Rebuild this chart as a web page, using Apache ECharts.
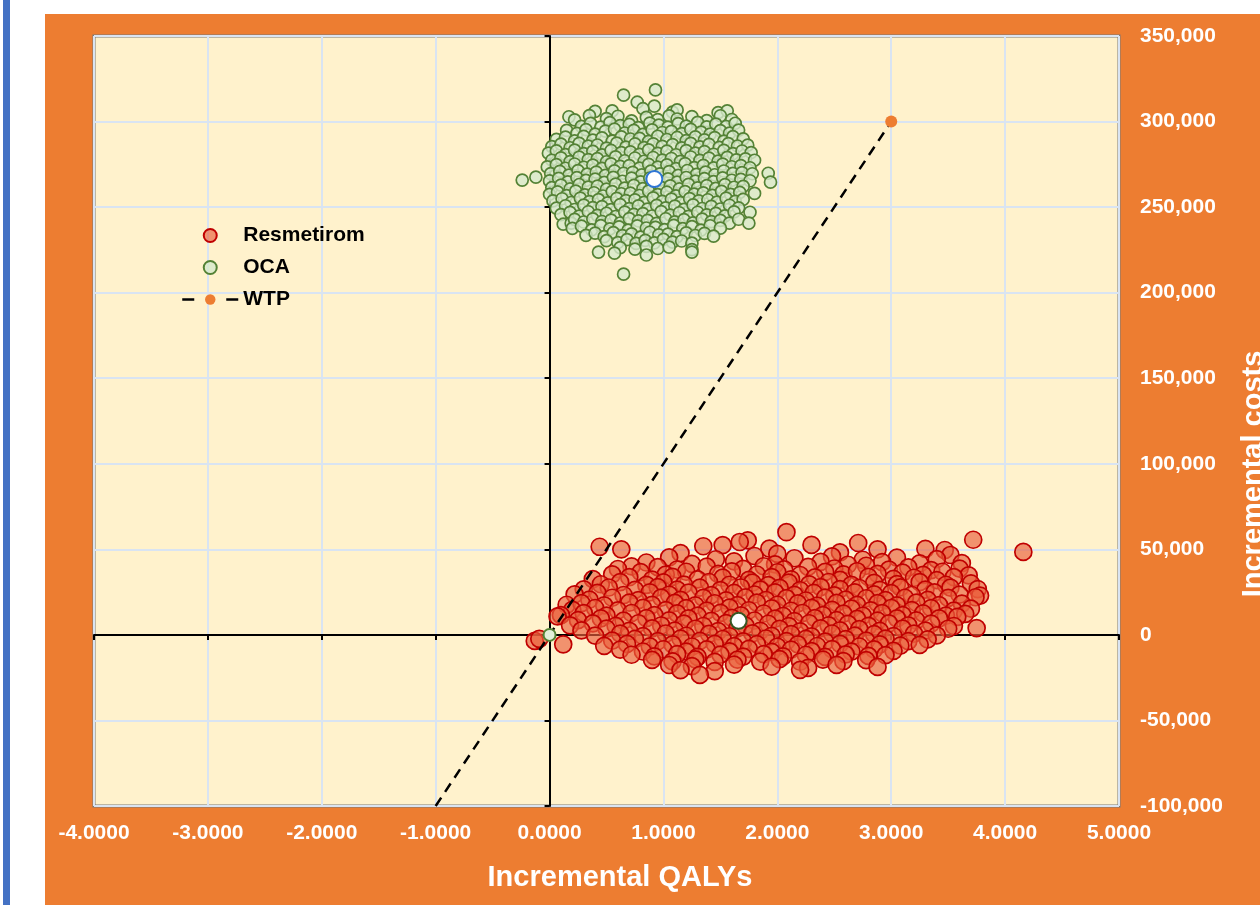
<!DOCTYPE html>
<html><head><meta charset="utf-8">
<script src="https://cdn.jsdelivr.net/npm/echarts@6/dist/echarts.min.js"></script>
<style>html,body{margin:0;padding:0;background:#fff;}#c{width:1260px;height:905px;}</style>
</head><body><div id="c"></div>
<script>
// ---- Data (incremental QALYs, incremental costs) ----
const resmetiromPoints = [
[2.08,60000],
[1.74,55200],[1.67,54300],[3.72,55600],[2.71,53700],[1.52,52500],
[0.44,51500],[0.63,50000],[1.35,51800],[2.3,52600],[3.3,50300],[3.47,49600],[1.93,50400],[2.88,50000],[4.16,48500],[2.55,48200],[1.15,47800],
[1.05,45300],[1.46,44200],[1.8,46100],[2.15,44800],[2.48,45900],[2.75,43900],[3.05,45200],[3.52,46700],[3.62,41900],[2.0,47300],
[0.85,42300],[1.25,41500],[1.62,43000],[1.98,41200],[2.38,42700],[2.62,41000],[2.92,42500],[3.25,41800],[3.4,44300],[0.72,40000],
[0.6,38500],[0.95,39600],[1.12,38200],[1.38,39900],[1.7,38600],[1.88,40100],[2.06,38300],[2.27,39700],[2.5,38800],[2.78,40400],[2.98,38100],[3.15,39500],[3.35,37900],[3.6,38700],
[0.55,35400],[0.8,36700],[1.02,35200],[1.2,36900],[1.48,35600],[1.6,37100],[1.82,35300],[2.0,36600],[2.2,35000],[2.42,36800],[2.58,35400],[2.7,37200],[2.88,35700],[3.1,36400],[3.28,35100],[3.45,36900],[3.68,34800],
[0.38,32600],[0.7,33700],[0.9,32300],[1.08,33900],[1.3,32400],[1.52,33500],[1.75,32100],[1.95,33800],[2.12,32500],[2.33,33600],[2.55,32200],[2.8,33900],[3.02,32700],[3.2,33400],[3.4,32000],[3.55,33800],
[0.45,29600],[0.62,30800],[0.85,29200],[1.0,30700],[1.18,29400],[1.4,30900],[1.58,29300],[1.78,30500],[1.92,29100],[2.1,30600],[2.28,29500],[2.45,30900],[2.65,29200],[2.85,30400],[3.05,29700],[3.25,30800],[3.48,29300],[3.7,30100],
[0.3,26600],[0.52,27700],[0.75,26300],[0.95,27900],[1.12,26500],[1.32,27600],[1.5,26200],[1.68,27800],[1.85,26400],[2.02,27500],[2.2,26100],[2.38,27900],[2.55,26700],[2.72,27400],[2.9,26300],[3.08,27800],[3.3,26500],[3.52,27600],[3.76,26800],
[0.22,23700],[0.42,24600],[0.65,23300],[0.88,24900],[1.05,23500],[1.22,24700],[1.42,23200],[1.62,24500],[1.8,23600],[1.98,24800],[2.15,23400],[2.32,24600],[2.5,23100],[2.68,24900],[2.85,23700],[3.0,24400],[3.18,23300],[3.38,24800],[3.6,23500],[3.78,23000],
[0.35,20600],[0.55,21700],[0.78,20300],[0.98,21800],[1.15,20500],[1.35,21600],[1.55,20200],[1.72,21900],[1.9,20400],[2.08,21500],[2.25,20100],[2.42,21800],[2.6,20600],[2.78,21400],[2.95,20300],[3.12,21700],[3.32,20500],[3.5,21600],[3.74,22000],
[0.15,17600],[0.28,18600],[0.48,17300],[0.7,18800],[0.9,17500],[1.1,18700],[1.28,17200],[1.45,18500],[1.65,17400],[1.82,18900],[2.0,17600],[2.18,18400],[2.35,17100],[2.52,18700],[2.7,17500],[2.88,18600],[3.05,17300],[3.22,18800],[3.42,17400],[3.62,18300],
[0.2,14600],[0.4,15700],[0.6,14300],[0.82,15800],[1.02,14500],[1.2,15600],[1.38,14200],[1.58,15900],[1.75,14400],[1.95,15500],[2.12,14100],[2.3,15800],[2.48,14600],[2.65,15400],[2.82,14300],[3.0,15700],[3.18,14500],[3.35,15600],[3.55,14200],[3.7,15300],
[0.1,11600],[0.3,12700],[0.5,11300],[0.72,12800],[0.92,11500],[1.12,12600],[1.3,11200],[1.5,12900],[1.68,11400],[1.88,12500],[2.05,11100],[2.22,12800],[2.4,11600],[2.58,12400],[2.75,11300],[2.92,12700],[3.1,11500],[3.28,12600],[3.48,11200],[3.65,12300],
[0.07,10800],[0.25,8600],[0.45,9700],[0.65,8300],[0.85,9800],[1.05,8500],[1.22,9600],[1.42,8200],[1.6,9900],[1.8,8400],[1.98,9500],[2.15,8100],[2.33,9800],[2.52,8600],[2.7,9400],[2.88,8300],[3.05,9700],[3.22,8500],[3.42,9600],[3.58,10500],
[0.18,5600],[0.38,6700],[0.58,5300],[0.78,6800],[0.98,5500],[1.18,6600],[1.35,5200],[1.55,6900],[1.72,5400],[1.92,6500],[2.1,5100],[2.28,6800],[2.45,5600],[2.62,6400],[2.8,5300],[2.98,6700],[3.15,5500],[3.35,6600],[3.55,5200],
[0.28,2600],[0.5,3700],[0.7,2300],[0.9,3800],[1.1,2500],[1.28,3600],[1.48,2200],[1.65,3900],[1.85,2400],[2.02,3500],[2.2,2100],[2.38,3800],[2.55,2600],[2.72,3400],[2.9,2300],[3.1,3700],[3.3,2500],[3.5,3600],[3.75,4000],
[0.4,-400],[0.62,700],[0.82,-700],[1.02,800],[1.2,-500],[1.4,600],[1.58,-800],[1.78,900],[1.95,-600],[2.12,500],[2.3,-900],[2.48,800],[2.68,-400],[2.85,400],[3.02,-700],[3.2,700],[3.4,-300],
[-0.13,-3500],[-0.09,-2300],[0.55,-3400],[0.75,-2300],[0.95,-3700],[1.15,-2200],[1.32,-3500],[1.52,-2400],[1.7,-3800],[1.9,-2100],[2.08,-3600],[2.25,-2300],[2.42,-3900],[2.6,-2500],[2.78,-3400],[2.95,-2200],[3.15,-3600],[3.32,-2600],
[0.12,-5500],[0.48,-6400],[0.68,-5300],[0.88,-6700],[1.08,-5600],[1.25,-6800],[1.45,-5200],[1.62,-6600],[1.82,-5400],[2.0,-6900],[2.18,-5500],[2.35,-6500],[2.55,-5200],[2.72,-6800],[2.9,-5600],[3.08,-6300],[3.25,-5800],
[0.62,-8600],[0.82,-9700],[1.0,-8400],[1.2,-9800],[1.38,-8500],[1.58,-9600],[1.75,-8200],[1.95,-9900],[2.12,-8600],[2.3,-9500],[2.48,-8300],[2.65,-9800],[2.85,-8500],[3.02,-9300],
[0.72,-11600],[0.92,-12600],[1.12,-11300],[1.3,-12800],[1.5,-11500],[1.7,-12700],[1.88,-11200],[2.05,-12500],[2.25,-11600],[2.42,-12900],[2.6,-11400],[2.8,-12300],[2.95,-11800],
[0.9,-14600],[1.08,-15500],[1.28,-14300],[1.45,-15800],[1.65,-14500],[1.85,-15600],[2.02,-14200],[2.2,-15700],[2.4,-14400],[2.58,-15300],[2.78,-14700],
[1.05,-17600],[1.25,-18300],[1.62,-17400],[1.95,-18600],[2.27,-19300],[2.52,-17500],[2.88,-18700],
[1.15,-20600],[1.45,-21200],[2.2,-20400],
[1.32,-23400]
];

const ocaPoints = [
[0.93,318500],[0.65,315400],[0.77,311300],[0.92,309000],[0.55,306200],[1.08,305500],[1.12,306800],[1.48,305200],[1.56,306300],[0.82,307500],[0.4,306000],
[0.17,302800],[0.22,301000],[0.35,303500],[0.5,301700],[0.6,303100],[0.72,300400],[0.85,302400],[0.95,301100],[1.05,303300],[1.12,301500],[1.25,302900],[1.38,300600],[1.5,303400],[1.6,301200],
[0.28,297200],[0.36,298900],[0.45,296800],[0.53,299400],[0.62,297600],[0.7,298300],[0.78,296500],[0.88,299100],[0.96,297900],[1.04,296700],[1.13,298800],[1.2,297300],[1.3,299500],[1.38,296900],[1.46,298500],[1.55,297100],[1.63,299000],
[0.15,294800],[0.24,293100],[0.32,295300],[0.4,292700],[0.49,294400],[0.57,295600],[0.66,293300],[0.74,294900],[0.82,292500],[0.9,295100],[0.99,293600],[1.07,294300],[1.16,292900],[1.24,295400],[1.33,293800],[1.41,292600],[1.5,294700],[1.58,293200],[1.66,295000],
[0.06,289600],[0.14,290900],[0.22,288700],[0.3,291300],[0.38,289200],[0.46,290500],[0.55,288500],[0.63,291100],[0.71,289800],[0.79,290200],[0.87,288400],[0.95,291400],[1.03,289500],[1.12,290700],[1.2,288900],[1.28,291000],[1.36,289300],[1.45,290600],[1.53,288600],[1.61,291200],[1.7,289900],
[0.02,285300],[0.1,286800],[0.18,284700],[0.26,287200],[0.34,285600],[0.42,286300],[0.5,284500],[0.59,287400],[0.67,285100],[0.75,286900],[0.83,284800],[0.91,287000],[0.99,285500],[1.08,286500],[1.16,284600],[1.24,287300],[1.32,285200],[1.4,286700],[1.49,284900],[1.57,287100],[1.65,285700],[1.74,286200],
[-0.01,281500],[0.06,282900],[0.14,280700],[0.22,283300],[0.3,281200],[0.38,282600],[0.46,280500],[0.54,283100],[0.63,281800],[0.71,282300],[0.79,280800],[0.87,283400],[0.95,281400],[1.03,282700],[1.11,280600],[1.2,283000],[1.28,281600],[1.36,282400],[1.44,280900],[1.53,283200],[1.61,281300],[1.69,282800],[1.77,281900],
[0.02,277400],[0.1,278800],[0.18,276600],[0.26,279200],[0.34,277700],[0.42,278300],[0.5,276500],[0.58,279400],[0.66,277100],[0.75,278700],[0.83,276800],[0.91,279000],[0.99,277500],[1.07,278400],[1.15,276700],[1.24,279300],[1.32,277300],[1.4,278600],[1.48,276900],[1.56,279100],[1.64,277600],[1.72,278200],[1.8,277400],
[-0.02,273500],[0.06,274800],[0.14,272700],[0.22,275200],[0.3,273300],[0.38,274500],[0.46,272600],[0.54,275300],[0.62,273800],[0.7,274300],[0.79,272800],[0.87,275000],[0.95,273400],[1.03,274700],[1.11,272500],[1.19,275400],[1.27,273100],[1.35,274400],[1.44,272900],[1.52,275100],[1.6,273600],[1.68,274200],[1.76,273000],
[0.01,269600],[0.09,270900],[0.17,268700],[0.25,271300],[0.33,269300],[0.41,270400],[0.49,268500],[0.57,271200],[0.65,269800],[0.73,270300],[0.81,268800],[0.89,271000],[0.97,269400],[1.05,270700],[1.13,268600],[1.21,271400],[1.29,269100],[1.37,270500],[1.45,268900],[1.53,271100],[1.61,269700],[1.69,270200],[1.78,269500],[1.92,269800],
[-0.24,265800],[-0.12,267500],[0.0,265300],[0.08,266800],[0.16,264700],[0.24,267200],[0.32,265600],[0.4,266300],[0.48,264500],[0.56,267400],[0.64,265100],[0.72,266900],[0.8,264800],[0.88,267000],[0.96,265500],[1.04,266500],[1.12,264600],[1.2,267300],[1.28,265200],[1.36,266700],[1.44,264900],[1.52,267100],[1.6,265700],[1.68,266200],[1.76,265400],[1.94,264600],
[0.02,261400],[0.1,262800],[0.18,260600],[0.26,263200],[0.34,261700],[0.42,262300],[0.5,260500],[0.58,263400],[0.66,261100],[0.74,262700],[0.82,260800],[0.9,263000],[0.98,261500],[1.06,262400],[1.14,260700],[1.22,263300],[1.3,261200],[1.38,262600],[1.46,260900],[1.54,263100],[1.62,261600],[1.7,262100],
[0.0,257500],[0.07,258900],[0.15,256700],[0.23,259300],[0.31,257200],[0.39,258400],[0.47,256500],[0.55,259100],[0.63,257800],[0.71,258200],[0.79,256800],[0.87,259400],[0.95,257300],[1.03,258700],[1.11,256600],[1.19,259000],[1.27,257600],[1.35,258300],[1.43,256900],[1.51,259200],[1.59,257400],[1.67,258600],[1.8,258000],
[0.03,253600],[0.11,254900],[0.19,252700],[0.27,255300],[0.35,253200],[0.43,254400],[0.51,252500],[0.59,255100],[0.67,253800],[0.75,254200],[0.83,252800],[0.91,255400],[0.99,253300],[1.07,254700],[1.15,252600],[1.23,255000],[1.31,253700],[1.39,254300],[1.47,252900],[1.55,255200],[1.63,253400],[1.7,254500],
[0.06,249400],[0.14,250800],[0.22,248600],[0.3,251200],[0.38,249700],[0.46,250300],[0.54,248500],[0.62,251400],[0.7,249100],[0.78,250700],[0.86,248800],[0.94,251000],[1.02,249500],[1.1,250600],[1.18,248700],[1.26,251300],[1.34,249200],[1.42,250400],[1.5,248900],[1.58,251100],[1.66,249600],
[0.1,245600],[0.18,246900],[0.26,244700],[0.34,247300],[0.42,245200],[0.5,246400],[0.58,244500],[0.66,247100],[0.74,245800],[0.82,246200],[0.9,244800],[0.98,247400],[1.06,245300],[1.14,246700],[1.22,244600],[1.3,247000],[1.38,245500],[1.46,246300],[1.54,244900],[1.62,247200],[1.76,247000],
[0.12,240000],[0.19,240600],[0.22,242800],[0.3,241300],[0.38,243100],[0.46,241600],[0.54,242400],[0.62,240700],[0.7,243300],[0.78,241900],[0.86,242200],[0.94,240500],[1.02,243200],[1.1,241400],[1.18,242700],[1.26,240800],[1.34,243000],[1.42,241500],[1.5,242300],[1.58,240600],[1.66,242900],[1.75,240600],
[0.2,237600],[0.28,238900],[0.37,236700],[0.45,239200],[0.53,237300],[0.61,238400],[0.69,236500],[0.77,239000],[0.85,237800],[0.93,238200],[1.01,236800],[1.09,239300],[1.17,237400],[1.25,238600],[1.33,236600],[1.41,239100],[1.5,237700],
[0.32,233500],[0.4,234800],[0.48,232700],[0.56,235100],[0.64,233300],[0.72,234400],[0.8,232500],[0.88,235300],[0.96,233800],[1.04,234200],[1.12,232800],[1.2,235000],[1.28,233400],[1.36,234600],[1.44,233000],
[0.5,230400],[0.6,229300],[0.68,231000],[0.76,228800],[0.84,230600],[0.92,229100],[1.0,231200],[1.08,229500],[1.16,230200],[1.25,228900],
[0.62,226300],[0.75,225400],[0.85,227000],[0.95,225800],[1.05,226600],[1.25,225200],
[0.43,223700],[0.57,223100],[0.85,222000],[1.25,223700],[0.65,210800]
];

const resmetiromMean = [1.66, 8200];
const ocaMean = [0.92, 266400];
const originPoint = [0, 0];
const wtpLine = [[-1, -100000], [3, 300000]];   // WTP threshold line, orange dot at its end
const legendNames = ['Resmetirom', 'OCA', 'WTP'];
const xAxisTitle = 'Incremental QALYs';
const yAxisTitle = 'Incremental costs';
const xRange = {min: -4, max: 5, interval: 1};
const yRange = {min: -100000, max: 350000, interval: 50000};

// ---- Chart ----
const FONT = '"Liberation Sans", Arial, sans-serif';
const chart = echarts.init(document.getElementById('c'), null, {renderer: 'canvas'});
const xLabelFmt = v => v.toFixed(4);
const yLabelFmt = v => v.toLocaleString('en-US');
const gridLine = {show: true, lineStyle: {color: '#d9e4f2', width: 2}};
const blackAxis = {color: '#000', width: 2};

chart.setOption({
  animation: false,
  backgroundColor: '#ffffff',
  textStyle: {fontFamily: FONT},
  graphic: [
    {type: 'rect', z: -100, shape: {x: 3, y: 0, width: 7, height: 905}, style: {fill: '#4472c4'}},
    {type: 'rect', z: -100, shape: {x: 45, y: 14, width: 1215, height: 891}, style: {fill: '#ed7d31'}},
    {type: 'text', z: 100, x: 620, y: 878, style: {text: xAxisTitle, fill: '#ffffff', font: 'bold 29px ' + FONT, textAlign: 'center', textVerticalAlign: 'middle'}},
    {type: 'text', z: 100, x: 1254, y: 474, rotation: Math.PI / 2, style: {text: yAxisTitle, fill: '#ffffff', font: 'bold 29px ' + FONT, textAlign: 'center', textVerticalAlign: 'middle'}}
  ],
  grid: {left: 94, right: 141, top: 36, bottom: 99, show: true, backgroundColor: '#fff2cc', borderColor: '#7a7a7a', borderWidth: 3},
  legend: {
    orient: 'vertical', left: 176, top: 220, itemWidth: 56, itemHeight: 13, itemGap: 11,
    textStyle: {fontSize: 21, fontWeight: 'bold', color: '#000', fontFamily: FONT, lineHeight: 20},
    data: [
      {name: legendNames[0]},
      {name: legendNames[1]},
      {name: legendNames[2], lineStyle: {type: [12, 32], width: 2.5}}
    ]
  },
  xAxis: [
    {type: 'value', min: xRange.min, max: xRange.max, interval: xRange.interval, position: 'bottom',
      axisLine: {show: false, onZero: false}, axisTick: {show: false}, splitLine: gridLine,
      axisLabel: {color: '#fff', fontWeight: 'bold', fontSize: 21, fontFamily: FONT, margin: 17, formatter: xLabelFmt}},
    {type: 'value', min: xRange.min, max: xRange.max, interval: xRange.interval, position: 'top',
      axisLine: {show: true, onZero: true, onZeroAxisIndex: 0, lineStyle: blackAxis},
      axisTick: {show: true, inside: true, length: 5, lineStyle: blackAxis},
      axisLabel: {show: false}, splitLine: {show: false}}
  ],
  yAxis: [
    {type: 'value', min: yRange.min, max: yRange.max, interval: yRange.interval, position: 'right',
      axisLine: {show: false, onZero: false}, axisTick: {show: false}, splitLine: gridLine,
      axisLabel: {color: '#fff', fontWeight: 'bold', fontSize: 21, fontFamily: FONT, margin: 21, padding: [4, 0, 0, 0], formatter: yLabelFmt}},
    {type: 'value', min: yRange.min, max: yRange.max, interval: yRange.interval, position: 'left',
      axisLine: {show: true, onZero: true, onZeroAxisIndex: 0, lineStyle: blackAxis},
      axisTick: {show: true, inside: false, length: 5, lineStyle: blackAxis},
      axisLabel: {show: false}, splitLine: {show: false}}
  ],
  series: [
    {name: legendNames[0], type: 'scatter', data: resmetiromPoints, symbol: 'circle', symbolSize: 17, z: 2,
      itemStyle: {color: 'rgba(234,96,60,0.66)', borderColor: '#c00000', borderWidth: 1.7, opacity: 1}},
    {name: legendNames[1], type: 'scatter', data: ocaPoints, symbol: 'circle', symbolSize: 12, z: 2,
      itemStyle: {color: 'rgba(214,232,202,0.8)', borderColor: '#548235', borderWidth: 1.7, opacity: 1}},
    {name: legendNames[2], type: 'line', z: 3,
      data: [{value: wtpLine[0], symbolSize: 0}, {value: wtpLine[1]}],
      symbol: 'circle', symbolSize: 12, showSymbol: true,
      itemStyle: {color: '#ed7d31', borderWidth: 0},
      lineStyle: {color: '#000', width: 2.5, type: [10, 7]}},
    {name: 'origin', type: 'scatter', data: [originPoint], symbolSize: 12, z: 4,
      itemStyle: {color: '#e2efda', borderColor: '#548235', borderWidth: 2, opacity: 1}},
    {name: 'Resmetirom mean', type: 'scatter', data: [resmetiromMean], symbolSize: 16, z: 5,
      itemStyle: {color: '#ffffff', borderColor: '#375623', borderWidth: 2, opacity: 1}},
    {name: 'OCA mean', type: 'scatter', data: [ocaMean], symbolSize: 16, z: 5,
      itemStyle: {color: '#ffffff', borderColor: '#2e75d6', borderWidth: 2, opacity: 1}}
  ]
});
</script></body></html>
